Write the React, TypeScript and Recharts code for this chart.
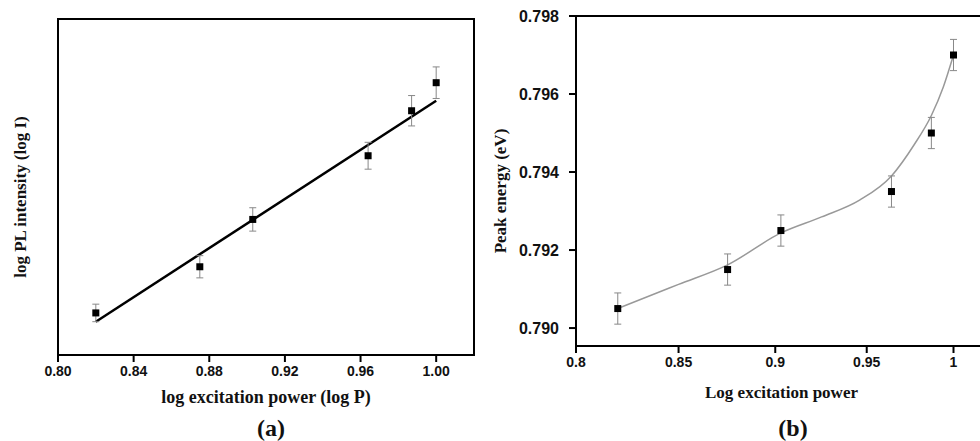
import React from 'react'
import { ComposedChart, Scatter, Line, XAxis, YAxis, ErrorBar, ReferenceArea, ReferenceLine, Label } from 'recharts'

// shared x values (log excitation power)
const logPower = [0.82, 0.875, 0.903, 0.964, 0.987, 1.0]

// panel (a): log PL intensity, arbitrary units (axis has no labels)
const logIntensity = [1.22, 2.01, 2.82, 3.91, 4.68, 5.16]
const intensityErr = [0.15, 0.19, 0.2, 0.23, 0.26, 0.27]
const fitPower = [0.82, 1.0]
const fitIntensity = [1.07, 4.85]
const intensityTicks = [1, 2, 3, 4, 5, 6]
const powerTicksA = [0.8, 0.84, 0.88, 0.92, 0.96, 1.0]

// panel (b): peak energy (eV)
const peakEnergy = [0.7905, 0.7915, 0.7925, 0.7935, 0.795, 0.797]
const energyErr = [0.0004, 0.0004, 0.0004, 0.0004, 0.0004, 0.0004]
const curvePower = [0.82, 0.85, 0.875, 0.903, 0.925, 0.946, 0.964, 0.977, 0.987, 0.994, 1.0]
const curveEnergy = [0.7905, 0.79112, 0.79162, 0.79244, 0.79285, 0.79328, 0.7939, 0.7947, 0.79545, 0.79618, 0.797]
const energyTicks = [0.79, 0.792, 0.794, 0.796, 0.798]
const powerTicksB = [0.8, 0.85, 0.9, 0.95, 1]

const pointsA = logPower.map((x, i) => ({ x, y: logIntensity[i], err: intensityErr[i] }))
const fitA = fitPower.map((x, i) => ({ x, y: fitIntensity[i] }))
const pointsB = logPower.map((x, i) => ({ x, y: peakEnergy[i], err: energyErr[i] }))
const curveB = curvePower.map((x, i) => ({ x, y: curveEnergy[i] }))

const sansFont = 'Liberation Sans, Arial, sans-serif'
const titleFont = 'Liberation Serif, Times New Roman, serif'
const axisStroke = { stroke: '#000', strokeWidth: 2 }

// bold tick labels, drawn at the position recharts hands us
const boldTick = (fmt: (v: number) => string, size: number) => (props: any) => {
  const { x, y, payload, textAnchor, verticalAnchor } = props
  const baseline = verticalAnchor === 'start' ? 'hanging' : 'central'
  return (
    <text x={x} y={y} textAnchor={textAnchor} dominantBaseline={baseline}
      fontFamily={sansFont} fontWeight="bold" fontSize={size} fill="#111">
      {fmt(payload.value)}
    </text>
  )
}

const Square = (props: any) => {
  const { cx, cy } = props
  if (cx == null || cy == null) return <g />
  return <rect x={cx - 3.5} y={cy - 3.5} width={7} height={7} fill="#000" />
}

const YTitle = ({ text, x, shift }: { text: string; x: number; shift: number }) => (props: any) => {
  const vb = props.viewBox
  const cy = vb.y + vb.height / 2 + shift
  return (
    <text x={x} y={cy} transform={`rotate(-90 ${x} ${cy})`} textAnchor="middle" dominantBaseline="central"
      fontFamily={titleFont} fontWeight={700} fontSize={17} fill="#111">
      {text}
    </text>
  )
}

const capStyle = { position: 'absolute' as const, top: 413, width: 60, textAlign: 'center' as const, fontFamily: titleFont, fontWeight: 700, fontSize: 24, color: '#111', lineHeight: '30px' }

export default function App() {
  return (
    <div style={{ position: 'fixed', left: 0, top: 0, width: 980, height: 441, overflow: 'hidden', background: '#fff' }}>
      <div style={{ position: 'absolute', left: 0, top: 0 }}>
        <ComposedChart width={480} height={441} margin={{ top: 19, right: 6, bottom: 56, left: 0 }}>
          <XAxis dataKey="x" type="number" domain={[0.8, 1.02]} ticks={powerTicksA} allowDataOverflow
            tick={boldTick((v) => v.toFixed(2), 14)} tickSize={7} tickMargin={4}
            axisLine={axisStroke} tickLine={axisStroke} height={30}>
            <Label value="log excitation power (log P)" position="bottom" offset={5}
              style={{ fontFamily: titleFont, fontWeight: 700, fontSize: 18, fill: '#111' }} />
          </XAxis>
          <YAxis dataKey="y" type="number" domain={[0.5, 6.25]} ticks={intensityTicks} allowDataOverflow
            tick={false} tickSize={7} width={58} axisLine={axisStroke} tickLine={axisStroke}>
            <Label content={YTitle({ text: 'log PL intensity (log I)', x: 20, shift: 10 })} />
          </YAxis>
          <ReferenceArea x1={0.8} x2={1.02} y1={0.5} y2={6.25} fill="none" stroke="#000" strokeWidth={2} />
          <Line data={fitA} dataKey="y" type="linear" stroke="#000" strokeWidth={2.5} dot={false} isAnimationActive={false} />
          <Scatter data={pointsA} dataKey="y" shape={Square} isAnimationActive={false}>
            <ErrorBar dataKey="err" direction="y" width={3.5} stroke="#888" strokeWidth={1} isAnimationActive={false} />
          </Scatter>
        </ComposedChart>
      </div>
      <div style={{ position: 'absolute', left: 490, top: 0 }}>
        <ComposedChart width={500} height={441} margin={{ top: 16, right: 3, bottom: 65, left: 0 }}>
          <XAxis dataKey="x" type="number" scale="log" domain={[0.8, 1.02]} ticks={powerTicksB} allowDataOverflow
            tick={boldTick((v) => String(v), 14)} tickSize={7} tickMargin={4} height={30}
            axisLine={axisStroke} tickLine={axisStroke}>
            <Label value="Log excitation power" position="bottom" offset={10}
              style={{ fontFamily: titleFont, fontWeight: 700, fontSize: 17, fill: '#111' }} />
          </XAxis>
          <YAxis dataKey="y" type="number" domain={[0.78954, 0.798]} ticks={energyTicks} allowDataOverflow
            tick={boldTick((v) => v.toFixed(3), 16)} tickSize={7} tickMargin={10} width={86}
            axisLine={axisStroke} tickLine={axisStroke}>
            <Label content={YTitle({ text: 'Peak energy (eV)', x: 10, shift: 10 })} />
          </YAxis>
          <ReferenceLine y={0.798} stroke="#000" strokeWidth={2} />
          <Line data={curveB} dataKey="y" type="monotone" stroke="#999" strokeWidth={1.5} dot={false} isAnimationActive={false} />
          <Scatter data={pointsB} dataKey="y" shape={Square} isAnimationActive={false}>
            <ErrorBar dataKey="err" direction="y" width={3.5} stroke="#888" strokeWidth={1} isAnimationActive={false} />
          </Scatter>
        </ComposedChart>
      </div>
      <div style={{ ...capStyle, left: 241 }}>(a)</div>
      <div style={{ ...capStyle, left: 763 }}>(b)</div>
    </div>
  )
}
